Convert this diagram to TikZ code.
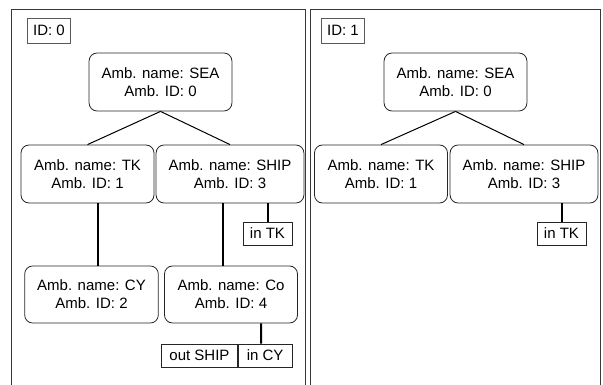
\documentclass[tikz,border=0pt]{standalone}
\usepackage{fontspec}
\setmainfont{Liberation Sans}
\usepackage{tikz}
\usetikzlibrary{positioning}

\tikzset{
  amb/.style={draw=black!85,rounded corners=8pt,align=center,minimum width=133pt,minimum height=58pt,inner xsep=12.5pt,line width=0.8pt},
  tag/.style={draw=black!85,minimum height=23pt,inner xsep=7pt,inner ysep=0pt,line width=0.8pt},
  idbox/.style={tag,draw=black!65,minimum height=25pt,inner xsep=6pt},
  panel/.style={draw=black!78,line width=1pt},
  tree/.style={line width=1pt},
  link/.style={line width=2pt}
}

\begin{document}
\begin{tikzpicture}[x=1pt,y=-1pt,font=\fontsize{15}{18}\selectfont]
    \useasboundingbox (0,0) rectangle (603,385);
    \draw [panel] (11,386) -- (11,10) -- (305,10) -- (305,386);
    \draw [panel] (310,386) -- (310,10) -- (600,10) -- (600,386);

    \node [idbox] (id0) at (49,30.5) {ID: 0};
    \node [amb] (sea0) at (160.5,82) {Amb. name: SEA\\Amb. ID: 0};
    \node [amb] (tk0) at (87.5,174) {Amb. name: TK\\Amb. ID: 1};
    \node [amb] (ship0) at (230,174) {Amb. name: SHIP\\Amb. ID: 3};
    \node [amb,minimum height=57pt] (cy0) at (91.5,294.5) {Amb. name: CY\\Amb. ID: 2};
    \node [amb,minimum height=57pt] (co0) at (231,294.5) {Amb. name: Co\\Amb. ID: 4};
    \node [tag] (intk0) at (267.5,233.5) {in TK};
    \node [tag,inner xsep=8pt] (outship) at (199.5,355.5) {out SHIP};
    \node [tag,inner xsep=8.5pt,right=0pt of outship] (incy) {in CY};

    \draw [tree] (sea0.south) -- (tk0.north);
    \draw [tree] (sea0.south) -- (ship0.north);
    \draw [link] ([xshift=10.5pt]tk0.south) -- ([xshift=6.5pt]cy0.north);
    \draw [link] ([xshift=-7pt]ship0.south) -- ([xshift=-8pt]co0.north);
    \draw [link] (intk0.north) -- (intk0.north |- ship0.south);
    \draw [link] ([xshift=30pt]co0.south) -- ([xshift=-4pt]incy.north);

    \node [idbox] (id1) at (343,30.5) {ID: 1};
    \node [amb] (sea1) at (455.5,82) {Amb. name: SEA\\Amb. ID: 0};
    \node [amb] (tk1) at (381,174) {Amb. name: TK\\Amb. ID: 1};
    \node [amb] (ship1) at (524,174) {Amb. name: SHIP\\Amb. ID: 3};
    \node [tag] (intk1) at (561.5,233.5) {in TK};

    \draw [tree] (sea1.south) -- (tk1.north);
    \draw [tree] (sea1.south) -- (ship1.north);
    \draw [link] (intk1.north) -- (intk1.north |- ship1.south);
  \end{tikzpicture}
\end{document}
